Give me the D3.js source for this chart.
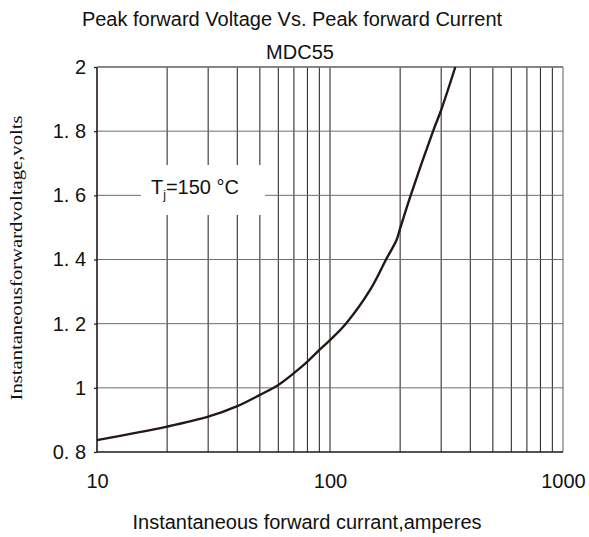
<!DOCTYPE html>
<html>
<head>
<meta charset="utf-8">
<script src="https://cdn.jsdelivr.net/npm/d3@7"></script>
<style>
    body { margin: 0; background: #fff; }
    svg { display: block; }
    text { font-family: Arial, "Liberation Sans", sans-serif; fill: #111; }
</style>
</head>
<body>
<div id="chart"></div>
<script>
// curve: current (A) vs peak forward voltage (V)
const currents = [10, 20, 30, 40, 50, 60, 70, 80, 90, 100, 117, 150, 174, 193, 200, 222, 277, 300, 345]
const voltages = [0.837, 0.879, 0.910, 0.943, 0.978, 1.009, 1.046, 1.082, 1.118, 1.149, 1.2, 1.31, 1.4, 1.461, 1.497, 1.6, 1.8, 1.866, 2.0]

const xTickValues = [10, 100, 1000]
const yTickValues = [0.8, 1, 1.2, 1.4, 1.6, 1.8, 2]
const gridCurrents = [20, 30, 40, 50, 60, 70, 80, 90, 100, 200, 300, 400, 500, 600, 700, 800, 900]

const width = 589
const height = 537
const margins = {
    top: 67,
    right: 26,
    bottom: 85,
    left: 97
}
const ink = "#231815"
const fontSize = "20px"

const svg = d3.select("#chart")
    .append("svg")
    .attr("width", width)
    .attr("height", height)

const x = d3.scaleLog()
    .domain([10, 1000])
    .range([margins.left, width - margins.right])
const y = d3.scaleLinear()
    .domain([0.8, 2])
    .range([height - margins.bottom, margins.top])

// grid
svg.selectAll(".v-grid")
    .data(gridCurrents)
    .enter()
    .append("line")
    .attr("class", "v-grid")
    .attr("x1", d => x(d))
    .attr("x2", d => x(d))
    .attr("y1", y(2))
    .attr("y2", y(0.8))
    .style("stroke", ink)
    .style("stroke-width", 1)
svg.selectAll(".h-grid")
    .data(yTickValues.slice(1))
    .enter()
    .append("line")
    .attr("class", "h-grid")
    .attr("x1", x(10))
    .attr("x2", x(1000))
    .attr("y1", d => y(d))
    .attr("y2", d => y(d))
    .style("stroke", "#6e6e6e")
    .style("stroke-width", 1)
// right border
svg.append("line")
    .attr("x1", x(1000)).attr("x2", x(1000))
    .attr("y1", y(2)).attr("y2", y(0.8))
    .style("stroke", "#777")
    .style("stroke-width", 1.2)

// label box that cuts the grid
svg.append("rect")
    .attr("x", 141)
    .attr("y", 165)
    .attr("width", 124)
    .attr("height", 50)
    .style("fill", "#fff")
const tj = svg.append("text")
    .attr("x", 151)
    .attr("y", 194)
    .style("font-size", fontSize)
tj.append("tspan").text("T")
tj.append("tspan").text("j").attr("dy", 5).style("font-size", "12px")
tj.append("tspan").text("=150 °C").attr("dy", -5)

// axes
const yAxis = d3.axisLeft(y)
    .tickValues(yTickValues)
    .tickSize(3)
    .tickPadding(8)
    .tickFormat(d => d3.format("~g")(d).replace(".", ". "))
const yAxisG = svg.append("g")
    .attr("transform", `translate(${margins.left},0)`)
    .call(yAxis)
yAxisG.select(".domain").remove()
yAxisG.selectAll("line").style("stroke", ink).style("stroke-width", 1.2)
yAxisG.selectAll("text")
    .style("font-size", fontSize)
    .style("font-family", "Arial, 'Liberation Sans', sans-serif")
    .style("fill", "#111")

const xAxis = d3.axisBottom(x)
    .tickValues(xTickValues)
    .tickSize(0)
    .tickPadding(22)
    .tickFormat(d3.format("d"))
const xAxisG = svg.append("g")
    .attr("transform", `translate(0,${height - margins.bottom})`)
    .call(xAxis)
xAxisG.select(".domain").remove()
xAxisG.selectAll("text")
    .style("font-size", fontSize)
    .style("font-family", "Arial, 'Liberation Sans', sans-serif")
    .style("fill", "#111")

svg.append("line")
    .attr("x1", x(10)).attr("x2", x(10))
    .attr("y1", y(2)).attr("y2", y(0.8))
    .style("stroke", ink)
    .style("stroke-width", 1.6)
svg.append("line")
    .attr("x1", x(10)).attr("x2", x(1000))
    .attr("y1", y(0.8)).attr("y2", y(0.8))
    .style("stroke", ink)
    .style("stroke-width", 1.6)
// top border
svg.append("line")
    .attr("x1", x(10)).attr("x2", x(1000))
    .attr("y1", y(2)).attr("y2", y(2))
    .style("stroke", "#777")
    .style("stroke-width", 1.4)

// curve
const line = d3.line()
    .x((d, i) => x(currents[i]))
    .y(d => y(d))
    .curve(d3.curveCatmullRom.alpha(0.5))
svg.append("path")
    .datum(voltages)
    .attr("d", line)
    .style("fill", "none")
    .style("stroke", ink)
    .style("stroke-width", 2.4)

// titles
svg.append("text")
    .text("Peak forward Voltage Vs. Peak forward Current")
    .attr("x", 292)
    .attr("y", 26)
    .attr("text-anchor", "middle")
    .style("font-size", fontSize)
svg.append("text")
    .text("MDC55")
    .attr("x", 300)
    .attr("y", 59)
    .attr("text-anchor", "middle")
    .style("font-size", fontSize)
svg.append("text")
    .text("Instantaneous forward currant,amperes")
    .attr("x", 307)
    .attr("y", 529)
    .attr("text-anchor", "middle")
    .style("font-size", fontSize)
svg.append("text")
    .text("Instantaneousforwardvoltage,volts")
    .attr("transform", "translate(22,258) rotate(-90)")
    .attr("text-anchor", "middle")
    .attr("textLength", 285)
    .attr("lengthAdjust", "spacingAndGlyphs")
    .style("font-family", "'Liberation Serif', 'DejaVu Serif', serif")
    .style("font-size", "16px")
</script>
</body>
</html>
